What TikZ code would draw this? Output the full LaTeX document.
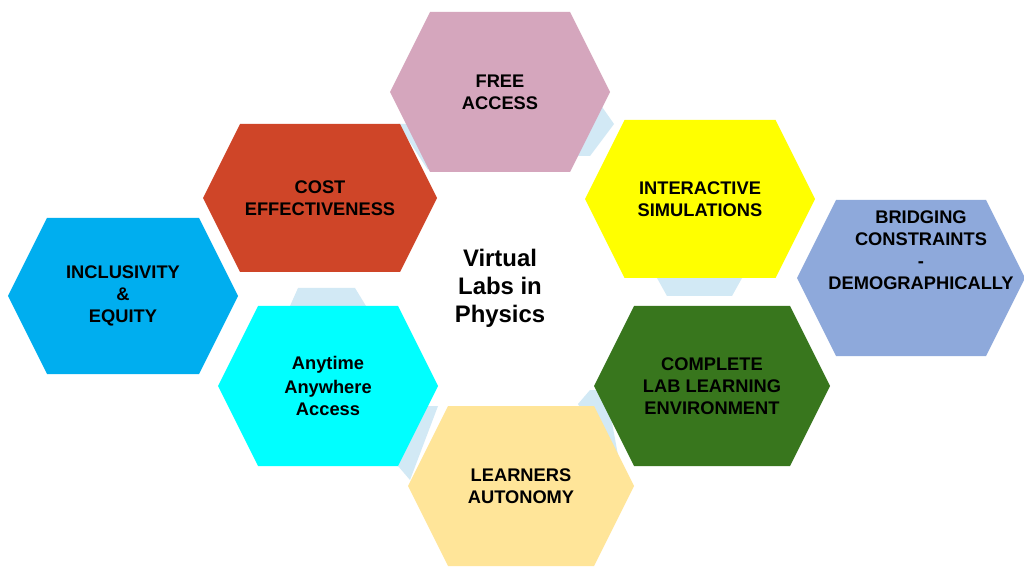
\documentclass[tikz,border=0pt]{standalone}
\usepackage{fontspec}
\setmainfont{Liberation Sans}
\newcommand\hexa[7]{\fill[#6] (#2-#4/2,#3) -- ++(#5/4,-#5/2) -- ++(#4-#5/2,0) -- ++(#5/4,#5/2) -- ++(-#5/4,#5/2) -- ++(-#4+#5/2,0) -- cycle; \node[lbl] (#1) at (#2,#3) {#7};}
\definecolor{cfree}{HTML}{D5A6BD}
\definecolor{ccost}{HTML}{CF4528}
\definecolor{cint}{HTML}{FFFF00}
\definecolor{cinc}{HTML}{00AEEF}
\definecolor{cbri}{HTML}{8EA9DB}
\definecolor{cany}{HTML}{00FFFF}
\definecolor{ccom}{HTML}{38761D}
\definecolor{clea}{HTML}{FFE599}
\definecolor{clink}{HTML}{D2E9F5}
\tikzset{lbl/.style={align=center,font=\bfseries\fontsize{13}{15.5}\selectfont},
link/.style={fill=clink}}
\begin{document}
\begin{tikzpicture}[x=0.025cm,y=-0.025cm]
\useasboundingbox (0,0) rectangle (1024,576);
\clip (0,0) rectangle (1024,576);
\fill[white] (0,0) rectangle (1024,576);
% connector pieces
\fill[link] (398,124) -- (420,124) -- (437,152) -- (428,170) -- cycle;
\fill[link] (600,104) -- (614,124) -- (590,156) -- (578,156) -- cycle;
\fill[link] (657,278) -- (742,278) -- (732,296) -- (667,296) -- cycle;
\fill[link] (298,288) -- (355,288) -- (366,306) -- (290,306) -- cycle;
\fill[link] (398,466) -- (420,406) -- (438,406) -- (410,480) -- cycle;
\fill[link] (578,404) -- (590,390) -- (606,390) -- (620,466) -- (614,466) -- cycle;
% hexagons
\hexa{free}{500}{92}{220}{160}{cfree}{FREE\\ACCESS}
\hexa{cost}{320}{198}{234}{148}{ccost}{COST\\EFFECTIVENESS}
\hexa{inter}{700}{199}{230}{158}{cint}{INTERACTIVE\\SIMULATIONS}
\hexa{incl}{123}{296}{230}{156}{cinc}{INCLUSIVITY\\\&\\EQUITY}
\fill[cbri] (797,278) -- ++(39,-78) -- ++(150,0) -- ++(39,78) -- ++(-39,78) -- ++(-150,0) -- cycle;
\node[lbl,anchor=north] (brid) at (921,206) {BRIDGING\\CONSTRAINTS\\-\\DEMOGRAPHICALLY};
\hexa{any}{328}{386}{220}{160}{cany}{Anytime\\[2pt]Anywhere\\Access}
\hexa{comp}{712}{386}{236}{160}{ccom}{COMPLETE\\LAB LEARNING\\ENVIRONMENT}
\hexa{lear}{521}{486}{226}{160}{clea}{LEARNERS\\AUTONOMY}
\node[lbl,font=\bfseries\fontsize{17}{20}\selectfont] (vl) at (500,288) {Virtual\\Labs in\\Physics};
\end{tikzpicture}
\end{document}
